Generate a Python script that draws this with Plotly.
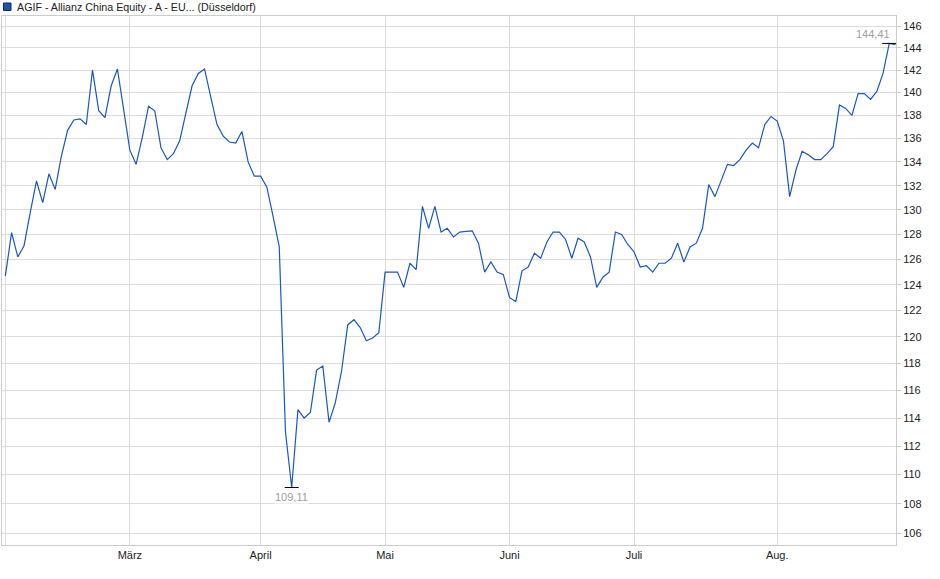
import math
import pandas as pd
import plotly.graph_objects as go

# -------------------------
# Data
# -------------------------
series_name = "AGIF - Allianz China Equity - A - EU... (Düsseldorf)"

holidays = ["2025-04-18", "2025-04-21", "2025-05-01", "2025-05-29", "2025-06-09"]

prices = [
    124.7, 128.15, 126.2, 127.1, 129.8, 132.4, 130.6, 133.0, 131.7, 134.5,
    136.7, 137.6, 137.7, 137.2, 142.0, 138.4, 137.8, 140.6, 142.1, 138.3,
    135.0, 133.8, 136.1, 138.8, 138.4, 135.2, 134.2, 134.7, 135.8, 138.2,
    140.6, 141.7, 142.1, 139.6, 137.2, 136.2, 135.7, 135.6, 136.6, 134.0,
    132.8, 132.8, 131.9, 129.5, 127.0, 113.0, 109.11, 114.6, 114.0, 114.4,
    117.5, 117.8, 113.7, 115.1, 117.4, 120.9, 121.3, 120.7, 119.7, 119.9,
    120.3, 125.0, 125.0, 125.0, 123.8, 125.7, 125.2, 130.3, 128.5, 130.3,
    128.2, 128.5, 127.8, 128.2, 128.25, 128.3, 127.3, 125.0, 125.8, 125.0,
    124.8, 123.0, 122.7, 125.1, 125.4, 126.5, 126.1, 127.4, 128.2, 128.2,
    127.6, 126.1, 127.7, 127.4, 126.2, 123.8, 124.6, 125.0, 128.2, 128.0,
    127.2, 126.6, 125.4, 125.5, 125.0, 125.7, 125.7, 126.1, 127.3, 125.8,
    127.0, 127.3, 128.5, 132.1, 131.1, 132.4, 133.8, 133.7, 134.2, 135.0,
    135.6, 135.2, 137.2, 137.9, 137.5, 135.8, 131.1, 133.3, 134.9, 134.6,
    134.2, 134.2, 134.7, 135.3, 138.9, 138.6, 138.0, 139.9, 139.9, 139.4,
    140.1, 141.7, 144.41, 144.3,
]

# trading days (Düsseldorf), Feb 3 - Aug 28 2025
dates = pd.bdate_range("2025-02-03", "2025-08-28", freq="C", holidays=holidays)
assert len(dates) == len(prices)

tick_dates = ["2025-02-03", "2025-03-03", "2025-04-01", "2025-05-02",
              "2025-06-02", "2025-07-01", "2025-08-01"]
tick_labels = ["", "März", "April", "Mai", "Juni", "Juli", "Aug."]

y_ticks = list(range(106, 147, 2))

# -------------------------
# Styles
# -------------------------
LINE_BLUE = "#1a56c4"
GRID = "#dcdcdc"
FRAME = "#cccccc"
LABEL_GRAY = "#a0a0a0"
FONT = "Liberation Sans, Arial, sans-serif"

i_min = prices.index(min(prices))
i_max = prices.index(max(prices))


def fmt_de(v):
    return f"{v:.2f}".replace(".", ",")


fig = go.Figure()

fig.add_trace(go.Scatter(
    x=dates, y=prices,
    mode="lines",
    line=dict(color=LINE_BLUE, width=1.2),
    name=series_name,
    showlegend=False,
))

# min / max markers
fig.add_trace(go.Scatter(
    x=[dates[i_min], dates[i_max]],
    y=[prices[i_min], prices[i_max]],
    mode="markers",
    marker=dict(symbol="line-ew", size=10, line=dict(color="black", width=1)),
    showlegend=False,
    hoverinfo="skip",
))

fig.add_annotation(
    x=dates[i_max], y=math.log10(prices[i_max]),
    text=fmt_de(prices[i_max]),
    showarrow=False, xanchor="right", yanchor="middle",
    xshift=2, yshift=9,
    bgcolor="white", borderpad=0,
    font=dict(family=FONT, size=11, color=LABEL_GRAY),
)
fig.add_annotation(
    x=dates[i_min], y=math.log10(prices[i_min]),
    text=fmt_de(prices[i_min]),
    showarrow=False, xanchor="center", yanchor="middle",
    yshift=-10,
    bgcolor="white", borderpad=0,
    font=dict(family=FONT, size=11, color=LABEL_GRAY),
)

# legend-like header (square + text)
plot_w, plot_h = 894, 529
fig.add_shape(
    type="rect", xref="paper", yref="paper",
    x0=(3.5 - 2) / plot_w, x1=(11 - 2) / plot_w,
    y0=(545 - 10.5) / plot_h, y1=(545 - 3) / plot_h,
    fillcolor="#2050b0", line=dict(color="#0b2a66", width=1),
)
fig.add_annotation(
    xref="paper", yref="paper",
    x=(15 - 2) / plot_w, y=(545 - 7) / plot_h,
    text=series_name, showarrow=False,
    xanchor="left", yanchor="middle",
    font=dict(family=FONT, size=10.7, color="#222222"),
)

fig.update_layout(
    width=940, height=579,
    margin=dict(l=2, r=44, t=16, b=34),
    paper_bgcolor="white",
    plot_bgcolor="white",
    showlegend=False,
    font=dict(family=FONT, size=11, color="#222222"),
    xaxis=dict(
        type="date",
        range=["2025-01-31 11:00", "2025-08-28 02:00"],
        rangebreaks=[dict(bounds=["sat", "mon"]), dict(values=holidays)],
        tickmode="array", tickvals=tick_dates, ticktext=tick_labels,
        showgrid=True, gridcolor=GRID, gridwidth=1,
        showline=True, linecolor=FRAME, mirror=True,
        ticks="", ticklen=0,
        zeroline=False,
        tickfont=dict(family=FONT, size=11, color="#222222"),
    ),
    yaxis=dict(
        type="log",
        range=[math.log10(105.22), math.log10(146.93)],
        side="right",
        tickmode="array", tickvals=y_ticks, ticktext=[str(v) for v in y_ticks],
        showgrid=True, gridcolor=GRID, gridwidth=1,
        showline=True, linecolor=FRAME, mirror=True,
        ticks="outside", ticklen=4, tickcolor=FRAME,
        zeroline=False,
        tickfont=dict(family=FONT, size=11, color="#222222"),
    ),
)

fig.write_html(
    "out.html",
    config={"displayModeBar": False},
    post_script="document.body.style.margin='0';",
)
